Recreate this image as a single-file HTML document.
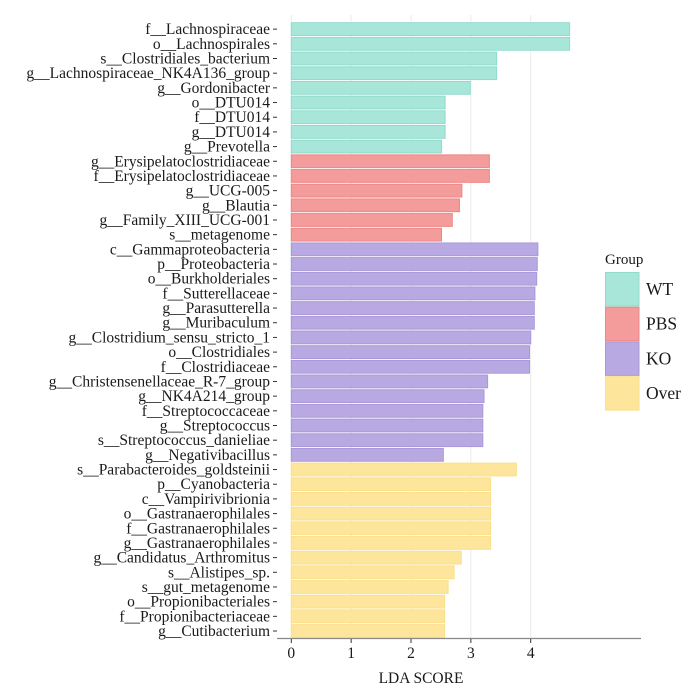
<!DOCTYPE html>
<html><head><meta charset="utf-8">
<style>
body{margin:0;background:#fff;}
svg text{font-family:"Liberation Serif",serif;}
</style></head>
<body>
<svg id="chart" width="697" height="691" xmlns="http://www.w3.org/2000/svg">
<g id="grid"></g>
<g id="bars"></g>
<g id="ylab"></g>
<g id="xax"></g>
<g id="legend"></g>
</svg>
<script>
const taxa = ["f__Lachnospiraceae","o__Lachnospirales","s__Clostridiales_bacterium","g__Lachnospiraceae_NK4A136_group","g__Gordonibacter","o__DTU014","f__DTU014","g__DTU014","g__Prevotella",
"g__Erysipelatoclostridiaceae","f__Erysipelatoclostridiaceae","g__UCG-005","g__Blautia","g__Family_XIII_UCG-001","s__metagenome",
"c__Gammaproteobacteria","p__Proteobacteria","o__Burkholderiales","f__Sutterellaceae","g__Parasutterella","g__Muribaculum","g__Clostridium_sensu_stricto_1","o__Clostridiales","f__Clostridiaceae","g__Christensenellaceae_R-7_group","g__NK4A214_group","f__Streptococcaceae","g__Streptococcus","s__Streptococcus_danieliae","g__Negativibacillus",
"s__Parabacteroides_goldsteinii","p__Cyanobacteria","c__Vampirivibrionia","o__Gastranaerophilales","f__Gastranaerophilales","g__Gastranaerophilales","g__Candidatus_Arthromitus","s__Alistipes_sp.","s__gut_metagenome","o__Propionibacteriales","f__Propionibacteriaceae","g__Cutibacterium"];
const ldaScores = [4.65,4.65,3.43,3.43,2.99,2.57,2.57,2.57,2.51,
3.31,3.31,2.85,2.81,2.69,2.51,
4.12,4.11,4.10,4.07,4.06,4.06,4.00,3.98,3.98,3.28,3.22,3.20,3.20,3.20,2.54,
3.76,3.33,3.33,3.33,3.33,3.33,2.84,2.72,2.62,2.56,2.56,2.56];
const groups = ["WT","WT","WT","WT","WT","WT","WT","WT","WT",
"PBS","PBS","PBS","PBS","PBS","PBS",
"KO","KO","KO","KO","KO","KO","KO","KO","KO","KO","KO","KO","KO","KO","KO",
"Over","Over","Over","Over","Over","Over","Over","Over","Over","Over","Over","Over"];
const groupNames = ["WT","PBS","KO","Over"];
const xTicks = [0,1,2,3,4];

const fills={WT:"#a8e6da",PBS:"#f49b9b",KO:"#b9a9e2",Over:"#fde69c"};
const strokes={WT:"#8fdccc",PBS:"#ee8787",KO:"#a998da",Over:"#fbdf8a"};
const NS="http://www.w3.org/2000/svg";
const x0=291.3, pxPer=59.85;
const xs=v=>x0+v*pxPer;
const band=14.68, top0=21.8;
const yc=i=>top0+band*i+band/2;
function mk(t,a,p){const e=document.createElementNS(NS,t);for(const k in a)e.setAttribute(k,a[k]);p.appendChild(e);return e;}
const grid=document.getElementById('grid'),bars=document.getElementById('bars'),yl=document.getElementById('ylab'),xa=document.getElementById('xax'),lg=document.getElementById('legend');
xTicks.forEach(t=>{const l=mk('line',{x1:xs(t),x2:xs(t),y1:15,y2:638,stroke:'#ebebeb','stroke-width':1},grid);

});
taxa.forEach((n,i)=>{
 const r=mk('rect',{x:xs(0),y:yc(i)-6.4,width:xs(ldaScores[i])-xs(0),height:12.8,fill:fills[groups[i]],stroke:strokes[groups[i]],'stroke-width':1},bars);
 
 
 const t=mk('text',{x:270,y:yc(i)+5,'text-anchor':'end','font-size':15.5,fill:'#1a1a1a'},yl);t.textContent=n;
 
 
 const tk=mk('line',{x1:273,x2:277,y1:yc(i),y2:yc(i),stroke:'#333','stroke-width':1},yl);
 
 
});
const ax=mk('line',{x1:277,x2:641,y1:638.5,y2:638.5,stroke:'#888','stroke-width':1.2},xa);


xTicks.forEach(t=>{
 const tk=mk('line',{x1:xs(t),x2:xs(t),y1:639,y2:643,stroke:'#333'},xa);
 
 
 const tx=mk('text',{x:xs(t),y:658,'text-anchor':'middle','font-size':15.5,fill:'#1a1a1a'},xa);tx.textContent=t;
 
 
});
const xt=mk('text',{x:421,y:683,'text-anchor':'middle','font-size':15.5,fill:'#1a1a1a'},xa);xt.textContent='LDA SCORE';


const lt=mk('text',{x:605,y:264,'font-size':15,fill:'#1a1a1a'},lg);lt.textContent='Group';


groupNames.forEach((g,k)=>{
 const y=272+k*34.7;
 const r=mk('rect',{x:605.5,y:y+0.5,width:33.5,height:33.5,fill:fills[g],stroke:strokes[g],'stroke-width':1},lg);
 
 
 const t=mk('text',{x:646,y:y+23,'font-size':17.5,fill:'#1a1a1a'},lg);t.textContent=g;
 
 
});
</script>
</body></html>
